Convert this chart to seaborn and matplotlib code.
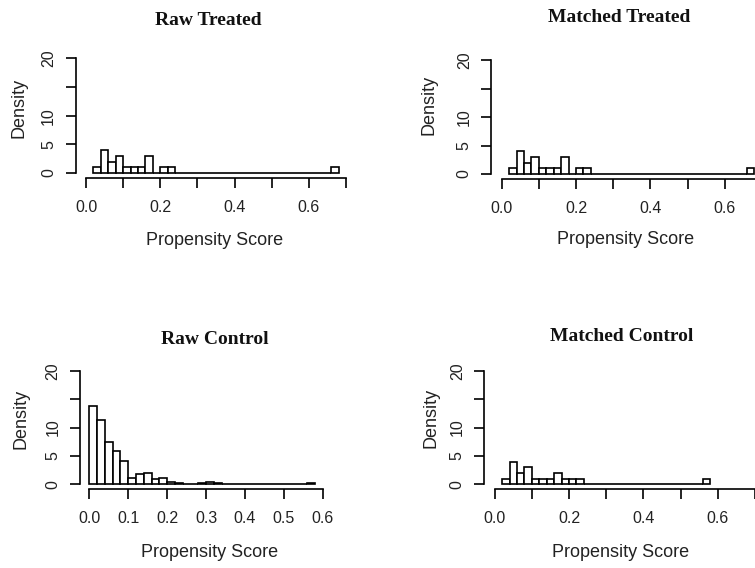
import numpy as np
import pandas as pd
import seaborn as sns
import matplotlib.pyplot as plt

# alturas de las barras (densidad), ancho de clase 0.02
raw_treated = [1, 4, 2, 3, 1, 1, 1, 3, 0, 1, 1,
               0, 0, 0, 0, 0, 0, 0, 0, 0, 0, 0, 0, 0, 0, 0, 0, 0, 0, 0, 0, 0,
               1]
matched_treated = [1, 4, 2, 3, 1, 1, 1, 3, 0, 1, 1,
                   0, 0, 0, 0, 0, 0, 0, 0, 0, 0, 0, 0, 0, 0, 0, 0, 0, 0, 0, 0, 0,
                   1]
raw_control = [13.8, 11.35, 7.5, 5.9, 4.05, 1.05, 1.75, 2.05, 0.95, 1.15,
               0.45, 0.25, 0, 0, 0.25, 0.45, 0.25,
               0, 0, 0, 0, 0, 0, 0, 0, 0, 0, 0,
               0.25]
matched_control = [1, 4, 2, 3, 1, 1, 1, 2, 1, 1, 1,
                   0, 0, 0, 0, 0, 0, 0, 0, 0, 0, 0, 0, 0, 0, 0, 0,
                   1]
bin_start = [0.02, 0.02, 0.00, 0.02]
bin_width = 0.02

titles = ['Raw Treated', 'Matched Treated', 'Raw Control', 'Matched Control']
xticks_07 = [0.0, 0.1, 0.2, 0.3, 0.4, 0.5, 0.6, 0.7]
xlabels_07 = ['0.0', '', '0.2', '', '0.4', '', '0.6', '']
xticks_06 = [0.0, 0.1, 0.2, 0.3, 0.4, 0.5, 0.6]
xlabels_06 = ['0.0', '0.1', '0.2', '0.3', '0.4', '0.5', '0.6']
yticks = [0, 5, 10, 15, 20]
ylabels = ['0', '5', '10', '', '20']

sns.set_style('ticks')
plt.rcParams['font.family'] = ['Liberation Sans', 'DejaVu Sans']

W, H = 755, 568
fig = plt.figure(figsize=(W / 100, H / 100), dpi=100)

# caja de cada panel en pixeles: izq, der, arriba, abajo
cajas = [(75.6, 356.5, 53.8, 177.6),
         (491.3, 772.3, 55.7, 178.5),
         (80.0, 332.0, 366.2, 488.8),
         (484.3, 765.3, 366.2, 488.8)]
xlims = [(-0.028, 0.728), (-0.028, 0.728), (-0.024, 0.624), (-0.028, 0.728)]
datos = [raw_treated, matched_treated, raw_control, matched_control]
ticks = [(xticks_07, xlabels_07), (xticks_07, xlabels_07),
         (xticks_06, xlabels_06), (xticks_07, xlabels_07)]

# posiciones de textos en pixeles
pos_titulo = [(208.5, 20.7), (618.7, 17.5), (214.8, 339), (621.3, 336.7)]
pos_xlab = [(214.5, 240.7), (626, 239), (210, 552.5), (621, 552.5)]
pos_ylab = [(19, 108), (428.7, 105), (21, 419), (430.5, 417.5)]

for i in range(4):
    l, r, t, b = cajas[i]
    ax = fig.add_axes([l / W, 1 - b / H, (r - l) / W, (b - t) / H])
    alturas = datos[i]
    bordes = [round(bin_start[i] + bin_width * k, 2) for k in range(len(alturas) + 1)]
    df = pd.DataFrame({'x': [e + bin_width / 2 for e in bordes[:-1]],
                       'w': alturas})
    sns.histplot(data=df, x='x', weights='w', bins=bordes, stat='count',
                 color='white', edgecolor='black', linewidth=1.2, alpha=1,
                 ax=ax)
    ax.set_xlim(*xlims[i])
    ax.set_ylim(-0.8, 20.8)
    ax.set_xlabel('')
    ax.set_ylabel('')
    ax.set_facecolor('none')

    xt, xl = ticks[i]
    ax.set_xticks(xt)
    ax.set_xticklabels(xl)
    ax.set_yticks(yticks)
    ax.set_yticklabels(ylabels, rotation=90, va='center')

    for s in ['top', 'right']:
        ax.spines[s].set_visible(False)
    ax.spines['left'].set_bounds(0, 20)
    ax.spines['bottom'].set_bounds(xt[0], xt[-1])
    for s in ['left', 'bottom']:
        ax.spines[s].set_linewidth(1.2)
        ax.spines[s].set_color('black')
    ax.tick_params(axis='both', direction='out', length=7.5, width=1.2,
                   color='black', labelsize=11.5, labelcolor='#222222')
    ax.tick_params(axis='x', pad=8.5)
    ax.tick_params(axis='y', pad=6.5)

    tx, ty = pos_titulo[i]
    fig.text(tx / W, 1 - ty / H, titles[i], ha='center', va='center',
             family='Liberation Serif', fontweight='bold', fontsize=14,
             color='#111111')
    xx, xy = pos_xlab[i]
    fig.text(xx / W, 1 - xy / H, 'Propensity Score', ha='center',
             va='center', fontsize=13, color='#222222')
    yx, yy = pos_ylab[i]
    fig.text(yx / W, 1 - yy / H, 'Density', ha='center', va='center',
             rotation=90, fontsize=13, color='#222222')

fig.savefig('out.png', dpi=100)
